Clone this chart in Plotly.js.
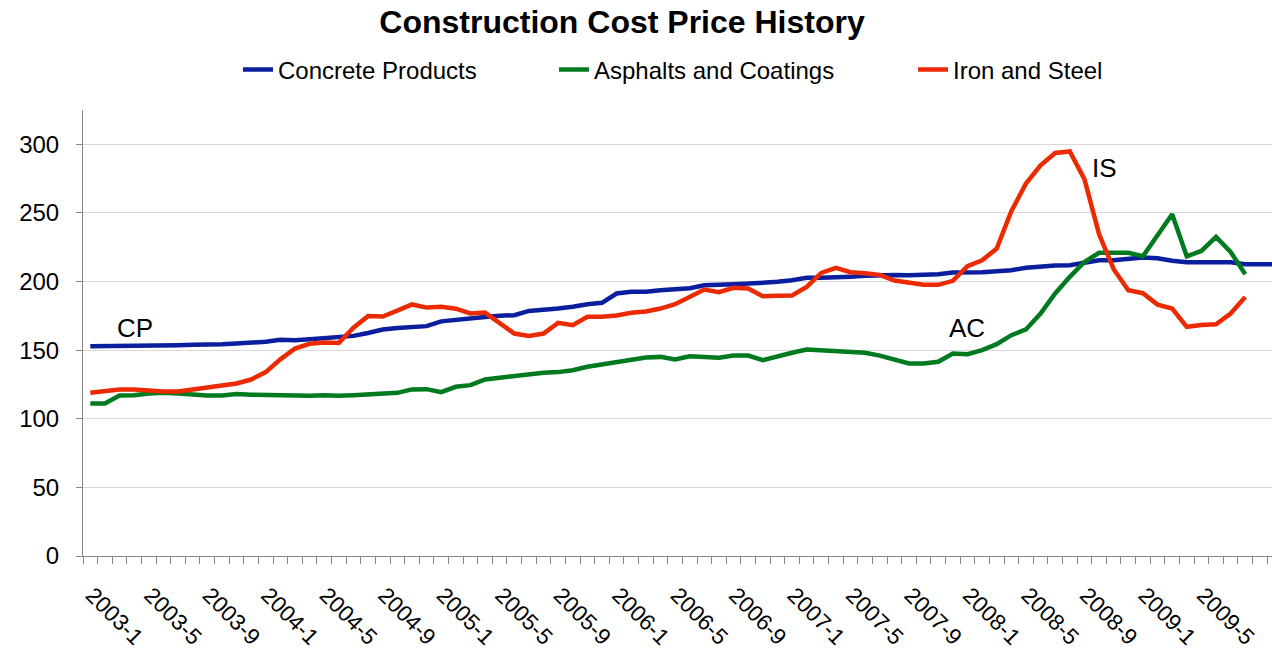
<!DOCTYPE html>
<html><head><meta charset="utf-8">
<script src="https://cdn.plot.ly/plotly-3.0.1.min.js"></script>
<style>html,body{margin:0;padding:0;background:#fff}#chart{width:1272px;height:657px}</style>
</head><body><div id="chart"></div>
<script>
const months = [
 "2003-1","2003-2","2003-3","2003-4","2003-5","2003-6","2003-7","2003-8","2003-9","2003-10","2003-11","2003-12",
 "2004-1","2004-2","2004-3","2004-4","2004-5","2004-6","2004-7","2004-8","2004-9","2004-10","2004-11","2004-12",
 "2005-1","2005-2","2005-3","2005-4","2005-5","2005-6","2005-7","2005-8","2005-9","2005-10","2005-11","2005-12",
 "2006-1","2006-2","2006-3","2006-4","2006-5","2006-6","2006-7","2006-8","2006-9","2006-10","2006-11","2006-12",
 "2007-1","2007-2","2007-3","2007-4","2007-5","2007-6","2007-7","2007-8","2007-9","2007-10","2007-11","2007-12",
 "2008-1","2008-2","2008-3","2008-4","2008-5","2008-6","2008-7","2008-8","2008-9","2008-10","2008-11","2008-12",
 "2009-1","2009-2","2009-3","2009-4","2009-5","2009-6","2009-7","2009-8","2009-9","2009-10"
];
const tickLabels = ["2003-1","2003-5","2003-9","2004-1","2004-5","2004-9","2005-1","2005-5","2005-9",
 "2006-1","2006-5","2006-9","2007-1","2007-5","2007-9","2008-1","2008-5","2008-9","2009-1","2009-5"];
const yTicks = [0,50,100,150,200,250,300];

const concreteProducts = [
 152.9,152.9,153.1,153.3,153.3,153.3,153.6,153.9,153.9,154.3,
 154.9,155.4,156.1,157.5,157.3,158.0,158.8,159.5,160.4,162.5,
 165.0,166.2,166.7,167.5,171.0,172.3,173.2,174.2,175.0,175.5,
 178.6,179.1,180.3,181.6,183.5,184.5,191.3,192.5,192.5,193.7,
 194.4,195.1,197.3,197.3,198.1,198.5,198.8,199.8,201.0,202.7,
 202.7,202.9,203.4,204.2,204.8,204.8,204.6,204.9,205.3,206.5,
 206.5,206.8,207.5,208.3,210.0,211.2,211.7,211.9,213.6,215.5,
 215.5,216.5,217.5,217.0,215.1,214.1,214.1,214.6,214.1,212.6,
 212.6,212.6];
const asphaltsCoatings = [
 111.2,111.2,117.0,117.2,118.4,118.9,118.4,117.5,117.0,117.0,
 118.0,117.5,117.2,117.0,116.5,116.7,117.2,116.7,117.2,117.7,
 118.4,118.9,121.4,121.6,119.4,123.3,124.5,128.6,129.9,131.1,
 133.0,133.5,134.0,135.4,137.9,139.6,141.5,142.7,144.7,145.1,
 143.2,145.6,144.7,144.4,146.1,146.1,142.7,145.6,148.1,150.5,
 150.0,148.8,148.8,148.1,146.0,143.5,140.3,140.3,141.5,147.6,
 147.1,150.0,154.4,160.9,165.1,176.7,191.3,203.4,214.3,220.9,
 221.1,220.9,218.4,233.7,249.0,218.4,222.3,232.5,221.6,205.3];
const ironSteel = [
 118.9,120.4,121.3,121.3,120.4,119.9,119.9,121.3,122.8,123.8,
 125.7,128.6,134.0,143.3,151.2,154.6,155.5,155.3,166.4,174.8,
 174.5,178.8,183.3,181.0,181.6,180.2,176.7,177.4,169.9,162.1,
 160.4,162.1,169.9,168.2,174.3,174.3,175.2,177.2,178.2,180.3,
 183.5,188.8,194.2,192.2,195.4,194.9,189.3,189.6,189.8,196.1,
 206.3,210.0,206.8,206.0,204.8,200.7,199.3,197.6,197.6,200.5,
 211.2,215.5,224.0,251.2,271.4,284.7,293.7,294.8,274.6,234.5,
 209.0,193.7,191.5,183.2,180.3,167.0,168.4,168.8,176.7,188.8];

const seriesNames = ["Concrete Products","Asphalts and Coatings","Iron and Steel"];
const seriesColors = ["#0A1E9E","#007A1E","#EC2A00"];
const seriesValues = [concreteProducts, asphaltsCoatings, ironSteel];
const legendIds = ["legend","legend2","legend3"];

const FONT = "Liberation Sans, Arial, Helvetica, sans-serif";
const traces = seriesValues.map((vals, k) => ({
  type: "scatter", mode: "lines",
  name: seriesNames[k],
  x: months.slice(0, vals.length),
  y: vals,
  line: {color: seriesColors[k], width: 4.5},
  legend: legendIds[k],
  hoverinfo: "skip"
}));

const ticktext = months.map(m => tickLabels.includes(m) ? m : "");
const W = 1272, H = 657;
function legendAt(px){
  return {xref:"container", yref:"container", x:(px-40)/W, y:1-70/H, xanchor:"left", yanchor:"middle",
    orientation:"h", font:{family:FONT, size:24, color:"#000"}, bgcolor:"rgba(0,0,0,0)", borderwidth:0};
}

const layout = {
  width: W, height: H,
  margin: {l:83, r:0, t:110, b:101, pad:0},
  paper_bgcolor:"#fff", plot_bgcolor:"#fff",
  font: {family: FONT, size: 24, color: "#000"},
  title: {text: "Construction Cost Price History", font:{family:FONT, size:32, color:"#000", weight:700},
    xref:"container", x:622/W, xanchor:"center", yref:"container", y:1-22/H, yanchor:"middle"},
  showlegend: true,
  legend: legendAt(278),
  legend2: legendAt(594),
  legend3: legendAt(953),
  xaxis: {
    type:"category", categoryorder:"array", categoryarray: months,
    range:[-0.5, 80.83], autorange:false,
    tickmode:"array", tickvals: months, ticktext: ticktext,
    tickson:"boundaries", ticks:"outside", ticklen:7, tickwidth:1, tickcolor:"#868686",
    ticklabelstandoff:16, ticklabelshift:2,
    showline:true, linecolor:"#868686", linewidth:1,
    showgrid:false, zeroline:false, tickangle:45,
    tickfont:{family:FONT, size:22.5, color:"#000"}, automargin:false, fixedrange:true
  },
  yaxis: {
    range:[0,325], autorange:false, tickmode:"array", tickvals:yTicks,
    ticks:"outside", ticklen:6, tickwidth:1, tickcolor:"#868686",
    ticklabelstandoff:12,
    showline:true, linecolor:"#868686", linewidth:1,
    showgrid:true, gridcolor:"#d9d9d9", gridwidth:1, zeroline:false,
    tickfont:{family:FONT, size:24, color:"#000"}, automargin:false, fixedrange:true
  },
  annotations: [
    {x:3.09, y:166.2, xref:"x", yref:"y", text:"CP", showarrow:false, font:{family:FONT, size:26, color:"#000"}, xanchor:"center", yanchor:"middle"},
    {x:59.95, y:166.2, xref:"x", yref:"y", text:"AC", showarrow:false, font:{family:FONT, size:26, color:"#000"}, xanchor:"center", yanchor:"middle"},
    {x:69.4, y:282.7, xref:"x", yref:"y", text:"IS", showarrow:false, font:{family:FONT, size:26, color:"#000"}, xanchor:"center", yanchor:"middle"}
  ]
};

Plotly.newPlot("chart", traces, layout, {displayModeBar:false, staticPlot:true});
</script>
</body></html>
